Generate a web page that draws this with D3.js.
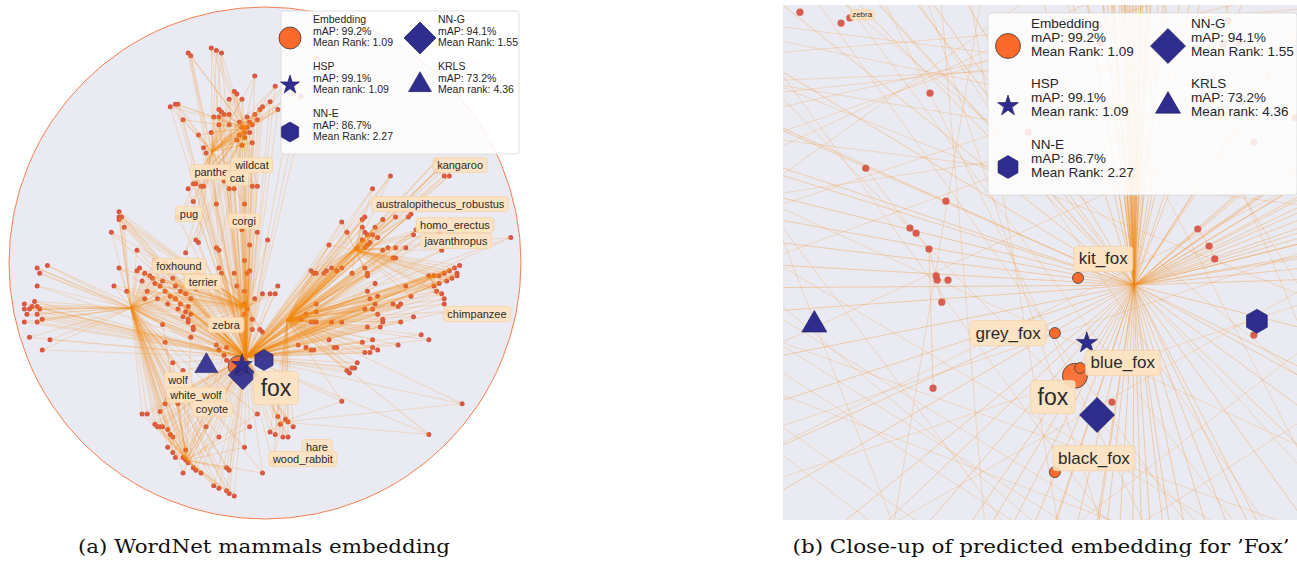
<!DOCTYPE html>
<html>
<head>
<meta charset="utf-8">
<script src="https://cdn.jsdelivr.net/npm/d3@7"></script>
<style>
  html, body { margin: 0; padding: 0; background: #fff; }
  svg { display: block; }
  text { font-family: "Liberation Sans", Arial, sans-serif; }
</style>
</head>
<body>
<svg id="chart" width="1297" height="561"></svg>
<script>
// ---- panel (a): Poincare disk, coordinates in % of disk radius ----
// hubs: [id, x, y, parent]
const hubs = [
  ['R', -7.4, -36.7, null],
  ['A', 8.6, -22.3, 'R'],
  ['C', -52.3, -17.6, 'R'],
  ['D', -20.7, 43.4, 'R'],
  ['K', -7.8, 52.7, 'R'],
  ['E', 35.2, 5.1, 'A'],
  ['F', 64.4, -5.5, 'A'],
  ['G', 68.4, 35.2, 'E'],
  ['H', -7.0, -17.2, 'R'],
  ['W', -30.5, -77.0, 'R'],
  ['Hr', 6.6, -62.1, 'R']
];

const catPoints = [[-21,84],[-19,83],[-17,82],[-30,82],[-29,81],[-4,73],[-12,67],[-11,66],[-9,64],[-14,64],[-37,61],[-35,62],[-34,62],[-18,60],[-17,59],[-32,56],[-20,57],[-18,57],[-16,58],[-14,58],[-18,54],[-14,54],[-26,50],[-21,51],[-10,55],[-9,53],[-7,53],[-6,51],[-8,49],[-11,48],[-9,46],[-5,47],[-7,57],[-5,54],[-2,60],[-1,61],[-4,58],[-3,56],[-24,45],[-23,43],[4,69],[11,66],[14,65],[20,80],[2,63],[5,60],[-8,51],[-6,55],[-10,50]];
const bigCatPoints = [[-28,31],[-27,31],[-25,30],[-24,30],[-30,29],[-28,24],[-19,23],[-14,29],[-12,29],[-8,23],[-5,30],[-3,30],[-16,32],[-34,18],[-27,9],[-26,8],[-18,5],[-31,4]];
const dogPoints = [[-57,20],[-57,18],[-57,17],[-56,18],[-60,12],[-55,14],[-50,5],[-50,-3],[-49,-2],[-47,-4],[-45,-5],[-48,-7],[-43,-8],[-41,-9],[-46,-11],[-39,-11],[-37,-13],[-35,-14],[-33,-16],[-42,-14],[-38,-16],[-34,-18],[-31,-19],[-32,-21],[-35,-9],[-36,-6],[-40,-3],[-31,-12],[-29,-14],[-30,-23],[-28,-26],[-47,-14],[-54,-11],[-59,-9],[-57,-2],[-29,-20],[-30,-22],[-28,-25],[-43,1],[-39,0],[-35,-1],[-26,-3],[-21,-7],[-27,-10],[-44,-6],[-40,-7],[-33,-11],[-30,-17]];
const farLeftPoints = [[-85,-1],[-89,-2],[-88,-4],[-89,-9],[-94,-16],[-94,-18],[-93,-20],[-92,-18],[-90,-15],[-91,-17],[-89,-17],[-88,-18],[-94,-23],[-89,-20],[-87,-22],[-92,-29],[-84,-30],[-87,-34],[-89,-23]];
const wolfPoints = [[-36,-39],[-32,-42],[-40,-24],[-39,-31],[-38,-53],[-39,-55],[-48,-59],[-46,-59],[-41,-58],[-43,-63],[-42,-64],[-41,-64],[-40,-64],[-38,-65],[-37,-67],[-36,-68],[-38,-72],[-36,-74],[-35,-76],[-32,-76],[-31,-77],[-30,-78],[-28,-80],[-27,-81],[-25,-82],[-32,-82],[-31,-73],[-23,-64],[-18,-68],[-20,-87],[-18,-88],[-15,-89],[-14,-90],[-12,-91],[-15,-80],[-14,-81],[-6,-64],[-3,-59],[-1,-82],[-8,-72],[-19,-32],[-16,-36],[-15,-38],[-29,-29],[-35,-51],[-34,-55]];
const harePoints = [[5,-60],[8,-61],[9,-62],[11,-64],[6,-63],[2,-66],[4,-67],[7,-68],[9,-68],[30,-54],[64,-67],[77,-55],[3,-78]];
const centerPoints = [[-7,-4],[-6,-3],[-8,-16],[-7,-18],[-8,-20],[-12,-4],[-11,-9],[-18,-2],[-17,-4],[-19,6],[-5,-26],[-2,-26],[-1,-27],[-13,-25],[-5,-22],[-18,-34],[-15,-33],[-8,-11],[-4,-14],[-10,-24],[-1,-12],[-8,1],[-6,7],[-3,12],[1,9],[-9,13],[5,-9],[4,-12],[2,-12]];
const primateLowPoints = [[33,-43],[34,-41],[35,-41],[36,-39],[32,-42],[13,-32],[16,-33],[19,-34],[28,-33],[38,-31],[39,-35],[41,-35],[44,-34],[42,-33],[42,-30],[52,-32],[61,-28],[64,-30],[25,-30],[19,-23],[26,-23],[40,-25],[45,-25],[46,-23],[44,-20],[46,-22],[52,-17],[53,-16],[58,-21],[42,-18],[43,-8],[40,-11],[41,-14],[44,-13],[43,-16],[50,-16],[53,-23],[70,-16],[71,-19],[30,-23],[39,-18],[20,-16],[20,-19],[16,-20],[20,-23],[14,-22],[18,-23],[27,-33],[18,-34]];
const primateUpPoints = [[30,16],[32,12],[25,7],[38,17],[39,18],[46,17],[51,18],[56,18],[57,19],[38,14],[39,12],[40,11],[38,9],[41,8],[40,7],[42,11],[43,14],[36,6],[39,6],[44,10],[46,5],[48,6],[51,6],[55,6],[50,2],[51,2],[58,11],[59,13],[69,5],[96,10],[18,-3],[19,-4],[20,-4],[24,-3],[26,-2],[28,-3],[30,-2],[23,-4],[34,-4],[39,-2],[40,-4],[40,-5],[49,34],[42,29],[68,12],[66,14]];
const kangarooPoints = [[70,34],[72,34],[67,40],[69,38],[67,36]];
const chimpPoints = [[64,-5],[66,-5],[68,-5],[70,-4],[72,-3],[74,-2],[75,-4],[73,-6],[71,-7],[68,-8],[66,-9],[67,-11],[69,-12],[70,-14],[75,-5],[57,-13],[55,-9],[76,-1]];

// [points, ancestor hubs (nearest first)]
const groupsA = [
  [catPoints, ['K', 'D', 'R']], [bigCatPoints, ['D', 'K', 'R']], [dogPoints, ['C', 'H', 'R']],
  [farLeftPoints, ['C', 'R']], [wolfPoints, ['W', 'C', 'R']], [harePoints, ['Hr', 'R', 'A']],
  [centerPoints, ['H', 'R']], [primateLowPoints, ['A', 'R']], [primateUpPoints, ['E', 'A', 'R']],
  [kangarooPoints, ['G', 'E', 'A']], [chimpPoints, ['F', 'E', 'A', 'R']]
];

const labelsA = [
  ['panther', -20.3, 35.5], ['wildcat', -5.1, 38.3], ['cat', -10.9, 33.2],
  ['kangaroo', 76.2, 38.3], ['australopithecus_robustus', 68.4, 23.0],
  ['homo_erectus', 74.2, 14.8], ['javanthropus', 74.6, 8.6], ['chimpanzee', 82.8, -19.9],
  ['pug', -29.7, 19.1], ['corgi', -8.2, 16.4], ['foxhound', -33.6, -1.2],
  ['terrier', -24.2, -7.4], ['zebra', -15.2, -24.2], ['wolf', -34.0, -45.7],
  ['white_wolf', -27.0, -51.6], ['coyote', -20.7, -57.0], ['fox', 4.3, -48.8],
  ['hare', 20.3, -71.9], ['wood_rabbit', 14.8, -76.6]
];

// predicted positions for 'fox' per method: [method, x, y]
const predictedA = [
  ['Embedding', -10.5, -40.2], ['KRLS', -22.9, -40.2], ['NN-E', -0.4, -37.9],
  ['NN-G', -8.7, -43.8], ['HSP', -9.0, -39.8]
];

// ---- panel (b): close-up, arbitrary 0..100 units ----
const closePoints = [[3.3,98.6],[11.3,96.5],[13.0,97.5],[28.6,82.9],[16.1,68.3],[31.7,61.9],[24.7,56.7],[25.9,55.7],[28.4,52.6],[29.8,47.4],[30.0,46.6],[32.1,46.6],[30.9,42.3],[29.2,25.6],[80.7,56.5],[82.9,53.2],[84.0,50.7],[91.6,35.9],[64.0,22.9],[55.4,28.9],
  [61.3,96.1],[61.7,92.6],[47.7,75.3],[86.6,96.9],[85.6,92.4],[88.7,92.6],[91.6,73.4],[99.6,78.1]];
const closeEdges = [[6,7],[7,8],[8,9],[9,12],[8,13],[10,11],[4,6],[14,15],[15,16]];
const closeHub = [68.3, 45.6];
const closeHubTargets = [[60,120],[62,130],[63,115],[64,125],[65,140],[66,118],[67,122],[68,135],[69,128],[70,117],[71,130],[72,124],[74,140],[76,120],[78,132],[58,140],[55,125],[80,118],[84,125],[88,130],[50,130],[45,118],
  [61,150],[63,160],[64,145],[65,170],[66,150],[67,160],[68,145],[69,170],[70,150],[71,160],[73,150],[75,165],[59,160],[57,115],[62,112],[66,110],[70,112],[74,112],
  [110,60],[110,64],[110,68],[112,72],[115,78],[110,56],[108,52],[112,50],[115,85],[118,90],[105,100],[100,95],[110,75],[112,58],[110,47],
  [120,62],[120,66],[120,70],[125,75],[125,80],[118,58],[122,55],[130,90],[125,95],[110,110],[95,115],[90,110],
  [-10,80],[-10,70],[-10,65],[-5,90],[0,100],[10,105],[20,108],[30,110],[-10,60],[-10,55],[-10,50],[-20,75],[-20,85],[5,115],[15,120],
  [-10,40],[-10,30],[-10,20],[-10,10],[0,-10],[10,-10],[20,-10],[-10,0],[-20,45],
  [30,-10],[40,-10],[45,-10],[50,-10],[55,-10],[60,-10],[65,-10],[70,-10],[75,-10],[80,-10],[85,-10],[90,-10],[95,-10],[105,-5],[110,5],[110,15],[110,25],[110,35],
  [35,-10],[48,-15],[58,-20],[62,-10],[68,-15],[72,-10],[78,-20],[100,-15],[115,20]];
const closeCrossLines = [[-10,95,110,70],[-10,88,110,40],[-10,75,110,60],[-10,60,60,110],[0,110,110,20],[10,110,110,0],[-10,45,80,-10],[-10,35,60,-10],[-10,25,40,-10],[-10,55,100,-10],[20,110,100,-10],[-10,100,70,-10],[-10,85,110,90],[-10,30,110,85],[-10,15,110,55],[-10,5,110,45],[5,-10,110,50],[30,110,40,-10],[40,110,20,-10],[-10,70,50,-10],[-10,92,90,-10],[-10,65,110,10],
  [-10,90,110,100],[-10,82,110,95],[-10,78,110,105],[-10,72,100,110],[-10,50,60,-10],[-10,40,70,-10],[-10,20,30,-10],[0,110,85,-10],[50,110,110,-5],[60,110,110,30],[80,110,110,60],[-10,62,110,80],[-10,48,110,92],[15,110,75,-10],[25,110,65,-10],[-10,10,110,70],[45,-10,110,40],[55,-10,110,25],
  [-10,97,110,82],[-10,86,110,66],[-10,68,80,110],[-10,58,110,98],[5,110,95,-10],[35,110,55,-10],[-10,38,110,-5],[-10,28,90,-10],[70,110,110,15],[-10,80,25,-10]];
const closeFoxPoints = [['fox', 56.8, 28.0], ['kit_fox', 57.4, 47.0], ['grey_fox', 52.9, 36.3], ['blue_fox', 57.8, 29.5], ['black_fox', 52.9, 9.3]];
const labelsB = [
  ['zebra', 15.4, 98.1], ['kit_fox', 62.3, 50.7], ['grey_fox', 43.8, 36.3],
  ['blue_fox', 66.1, 30.5], ['fox', 52.5, 23.9], ['black_fox', 60.5, 12.0]
];
const predictedB = [
  ['Embedding', 56.8, 28.0], ['KRLS', 6.1, 37.9], ['NN-E', 92.2, 38.6],
  ['NN-G', 61.1, 20.4], ['HSP', 59.1, 34.4]
];

// legend
const legendNames = ['Embedding', 'NN-G', 'HSP', 'KRLS', 'NN-E'];
const legendMap = ['mAP: 99.2%', 'mAP: 94.1%', 'mAP: 99.1%', 'mAP: 73.2%', 'mAP: 86.7%'];
const legendRank = ['Mean Rank: 1.09', 'Mean Rank: 1.55', 'Mean rank: 1.09', 'Mean rank: 4.36', 'Mean Rank: 2.27'];

const captions = ['(a) WordNet mammals embedding', '(b) Close-up of predicted embedding for \u2019Fox\u2019'];

// ---------------------------------------------------------------
const svg = d3.select('#chart');
const ORANGE_LINE = '#f48a14';
const POINT_RED = '#d65546';
const EMB_ORANGE = '#fb6a2c';
const NAVY = '#2e2d8e';
const BG = '#eaeaf2';

const shapeOf = { 'Embedding': 'circle', 'NN-G': 'diamond', 'HSP': 'star', 'KRLS': 'triangle', 'NN-E': 'hexagon' };

function drawMarker(g, method, x, y, s, opacity) {
  const shape = shapeOf[method];
  if (shape === 'circle') {
    g.append('circle').attr('cx', x).attr('cy', y).attr('r', s)
      .attr('fill', EMB_ORANGE).attr('stroke', '#3a3a3a').attr('stroke-width', 0.8)
      .attr('opacity', opacity);
    return;
  }
  let d;
  if (shape === 'diamond') d = d3.symbol(d3.symbolSquare, 2 * s * s)();
  else if (shape === 'star') d = d3.symbol(d3.symbolStar, s * s / 0.8908)();
  else if (shape === 'triangle') d = d3.symbol(d3.symbolTriangle, s * s * Math.sqrt(3))();
  else {
    const pts = d3.range(6).map(i => {
      const a = -Math.PI / 2 + i * Math.PI / 3;
      return [s * Math.cos(a), s * Math.sin(a)];
    });
    d = d3.line()(pts) + 'Z';
  }
  g.append('path').attr('d', d)
    .attr('transform', `translate(${x},${y})` + (shape === 'diamond' ? ' rotate(45)' : ''))
    .attr('fill', NAVY).attr('stroke', '#1c1b5c').attr('stroke-width', 0.6)
    .attr('opacity', opacity);
}

function drawLabels(g, data, xs, ys, opts) {
  data.forEach(d => {
    const big = d[0] === 'fox';
    const fs = big ? opts.bigFont : (d[0] === 'zebra' && opts.tinyZebra ? 8 : opts.font);
    const padX = big ? 7 : (fs < 9 ? 2 : opts.padX);
    const h = big ? 33 : (fs < 9 ? 10 : opts.boxH);
    const gl = g.append('g');
    const t = gl.append('text')
      .attr('x', xs(d[1])).attr('y', ys(d[2]))
      .attr('text-anchor', 'middle').attr('dominant-baseline', 'central')
      .style('font-size', fs + 'px').attr('fill', '#2b2b2b')
      .text(d[0]);
    const w = t.node().getComputedTextLength();
    gl.insert('rect', 'text')
      .attr('x', xs(d[1]) - w / 2 - padX).attr('y', ys(d[2]) - h / 2)
      .attr('width', w + 2 * padX).attr('height', h)
      .attr('rx', 3)
      .attr('fill', '#fde2c0').attr('fill-opacity', 0.9)
      .attr('stroke', '#f6d2a6').attr('stroke-width', 0.8);
  });
}

function drawLegend(g, cfg) {
  g.append('rect').attr('x', cfg.x).attr('y', cfg.y).attr('width', cfg.w).attr('height', cfg.h)
    .attr('rx', 3).attr('fill', '#ffffff').attr('fill-opacity', 0.86)
    .attr('stroke', '#d8d8d8').attr('stroke-width', 0.8);
  const cells = [[0, 0], [1, 0], [0, 1], [1, 1], [0, 2]];
  legendNames.forEach((name, i) => {
    const mx = cfg.colX[cells[i][0]];
    const my = cfg.rowY[cells[i][1]];
    drawMarker(g, name, mx, my, cfg.sizes[shapeOf[name]], 1);
    const tx = cfg.textX[cells[i][0]];
    [name, legendMap[i], legendRank[i]].forEach((s, k) => {
      g.append('text').attr('x', tx).attr('y', my + cfg.firstDy + k * cfg.lineH)
        .style('font-size', cfg.font + 'px').attr('fill', '#262626').text(s);
    });
  });
}

// ---------------- panel (a) ----------------
const cxA = 265, cyA = 263, rA = 256;
const xa = d3.scaleLinear().domain([-100, 100]).range([cxA - rA, cxA + rA]);
const ya = d3.scaleLinear().domain([-100, 100]).range([cyA + rA, cyA - rA]);

const defs = svg.append('defs');
defs.append('clipPath').attr('id', 'diskClip')
  .append('circle').attr('cx', xa(0)).attr('cy', ya(0)).attr('r', xa(100) - xa(0));
defs.append('clipPath').attr('id', 'closeClip')
  .append('rect').attr('x', 783).attr('y', 5).attr('width', 514).attr('height', 515);

const gA = svg.append('g');
gA.append('circle').attr('cx', xa(0)).attr('cy', ya(0)).attr('r', xa(100) - xa(0))
  .attr('fill', BG);

const hubMap = new Map(hubs.map(h => [h[0], h]));
const edgesA = [];
hubs.forEach(h => {
  if (h[3]) { const p = hubMap.get(h[3]); edgesA.push([h[1], h[2], p[1], p[2]]); }
});
groupsA.forEach(([pts, anc]) => {
  pts.forEach(p => {
    anc.forEach(id => {
      const hh = hubMap.get(id);
      edgesA.push([p[0], p[1], hh[1], hh[2]]);
    });
  });
});

const inner = gA.append('g').attr('clip-path', 'url(#diskClip)');
const allPointsA = groupsA.flatMap(g => g[0]);
inner.append('g').selectAll('circle').data(allPointsA).join('circle')
  .attr('cx', d => xa(d[0])).attr('cy', d => ya(d[1])).attr('r', 2.5)
  .attr('fill', POINT_RED);

inner.append('g').selectAll('line').data(edgesA).join('line')
  .attr('x1', d => xa(d[0])).attr('y1', d => ya(d[1]))
  .attr('x2', d => xa(d[2])).attr('y2', d => ya(d[3]))
  .attr('stroke', ORANGE_LINE).attr('stroke-opacity', 0.2).attr('stroke-width', 1.1);

gA.append('circle').attr('cx', xa(0)).attr('cy', ya(0)).attr('r', xa(100) - xa(0))
  .attr('fill', 'none').attr('stroke', '#f5804f').attr('stroke-width', 1);

const markerSizeA = { circle: 10, diamond: 14.5, star: 11, triangle: 11.5, hexagon: 10.5 };
const mA = gA.append('g');
['Embedding', 'KRLS', 'NN-E', 'NN-G', 'HSP'].forEach(name => {
  const p = predictedA.find(q => q[0] === name);
  drawMarker(mA, name, xa(p[1]), ya(p[2]), markerSizeA[shapeOf[name]], 0.92);
});

drawLabels(gA.append('g'), labelsA, xa, ya, { font: 11, bigFont: 23, padX: 4, boxH: 15 });

drawLegend(gA.append('g'), {
  x: 281, y: 11, w: 238, h: 143, font: 10.5, lineH: 11.5, firstDy: -15,
  colX: [290, 420], textX: [313, 438], rowY: [38, 85, 132],
  sizes: { circle: 11, diamond: 16, star: 10, triangle: 11.5, hexagon: 10 }
});

// ---------------- panel (b) ----------------
const xb = d3.scaleLinear().domain([0, 100]).range([783, 1297]);
const yb = d3.scaleLinear().domain([0, 100]).range([520, 5]);
const gB = svg.append('g');
gB.append('rect').attr('x', xb(0)).attr('y', yb(100)).attr('width', xb(100) - xb(0))
  .attr('height', yb(0) - yb(100)).attr('fill', BG);
const innerB = gB.append('g').attr('clip-path', 'url(#closeClip)');

innerB.append('g').selectAll('line').data(closeCrossLines).join('line')
  .attr('x1', d => xb(d[0])).attr('y1', d => yb(d[1]))
  .attr('x2', d => xb(d[2])).attr('y2', d => yb(d[3]))
  .attr('stroke', ORANGE_LINE).attr('stroke-opacity', 0.22).attr('stroke-width', 1);
innerB.append('g').selectAll('line').data(closeHubTargets).join('line')
  .attr('x1', xb(closeHub[0])).attr('y1', yb(closeHub[1]))
  .attr('x2', d => xb(d[0])).attr('y2', d => yb(d[1]))
  .attr('stroke', ORANGE_LINE).attr('stroke-opacity', 0.32).attr('stroke-width', 1);
innerB.append('g').selectAll('line').data(closeEdges).join('line')
  .attr('x1', d => xb(closePoints[d[0]][0])).attr('y1', d => yb(closePoints[d[0]][1]))
  .attr('x2', d => xb(closePoints[d[1]][0])).attr('y2', d => yb(closePoints[d[1]][1]))
  .attr('stroke', ORANGE_LINE).attr('stroke-opacity', 0.35).attr('stroke-width', 0.8);

innerB.append('g').selectAll('circle').data(closePoints).join('circle')
  .attr('cx', d => xb(d[0])).attr('cy', d => yb(d[1])).attr('r', 3.6)
  .attr('fill', POINT_RED).attr('fill-opacity', d => d === closePoints[19] ? 0.55 : 0.95);

const foxG = innerB.append('g');
closeFoxPoints.forEach(d => {
  foxG.append('circle').attr('cx', xb(d[1])).attr('cy', yb(d[2]))
    .attr('r', d[0] === 'fox' ? 12.5 : 5.5)
    .attr('fill', EMB_ORANGE).attr('fill-opacity', d[0] === 'fox' ? 0.92 : 1)
    .attr('stroke', '#3a3a3a').attr('stroke-width', 0.8);
});

const markerSizeB = { circle: 12.5, diamond: 17.5, star: 11, triangle: 12.5, hexagon: 12 };
['KRLS', 'NN-E', 'NN-G', 'HSP'].forEach(name => {
  const p = predictedB.find(q => q[0] === name);
  drawMarker(innerB, name, xb(p[1]), yb(p[2]), markerSizeB[shapeOf[name]], 1);
});

drawLabels(innerB.append('g'), labelsB, xb, yb, { font: 17, bigFont: 23, padX: 5, boxH: 25, tinyZebra: true });

drawLegend(gB.append('g'), {
  x: 988, y: 13, w: 309, h: 182, font: 13.5, lineH: 14, firstDy: -18,
  colX: [1008, 1168], textX: [1031, 1191], rowY: [46, 106, 167],
  sizes: { circle: 12.5, diamond: 17.5, star: 11, triangle: 12.5, hexagon: 11.5 }
});

// ---------------- captions ----------------
const capX = [264, 1041];
const capW = [372, 497];
captions.forEach((c, i) => {
  svg.append('text').attr('x', capX[i]).attr('y', 553)
    .attr('text-anchor', 'middle')
    .style('font-family', '"DejaVu Serif", "Liberation Serif", serif')
    .style('font-size', '19px').attr('fill', '#111')
    .attr('textLength', capW[i]).attr('lengthAdjust', 'spacingAndGlyphs')
    .text(c);
});
</script>
</body>
</html>
